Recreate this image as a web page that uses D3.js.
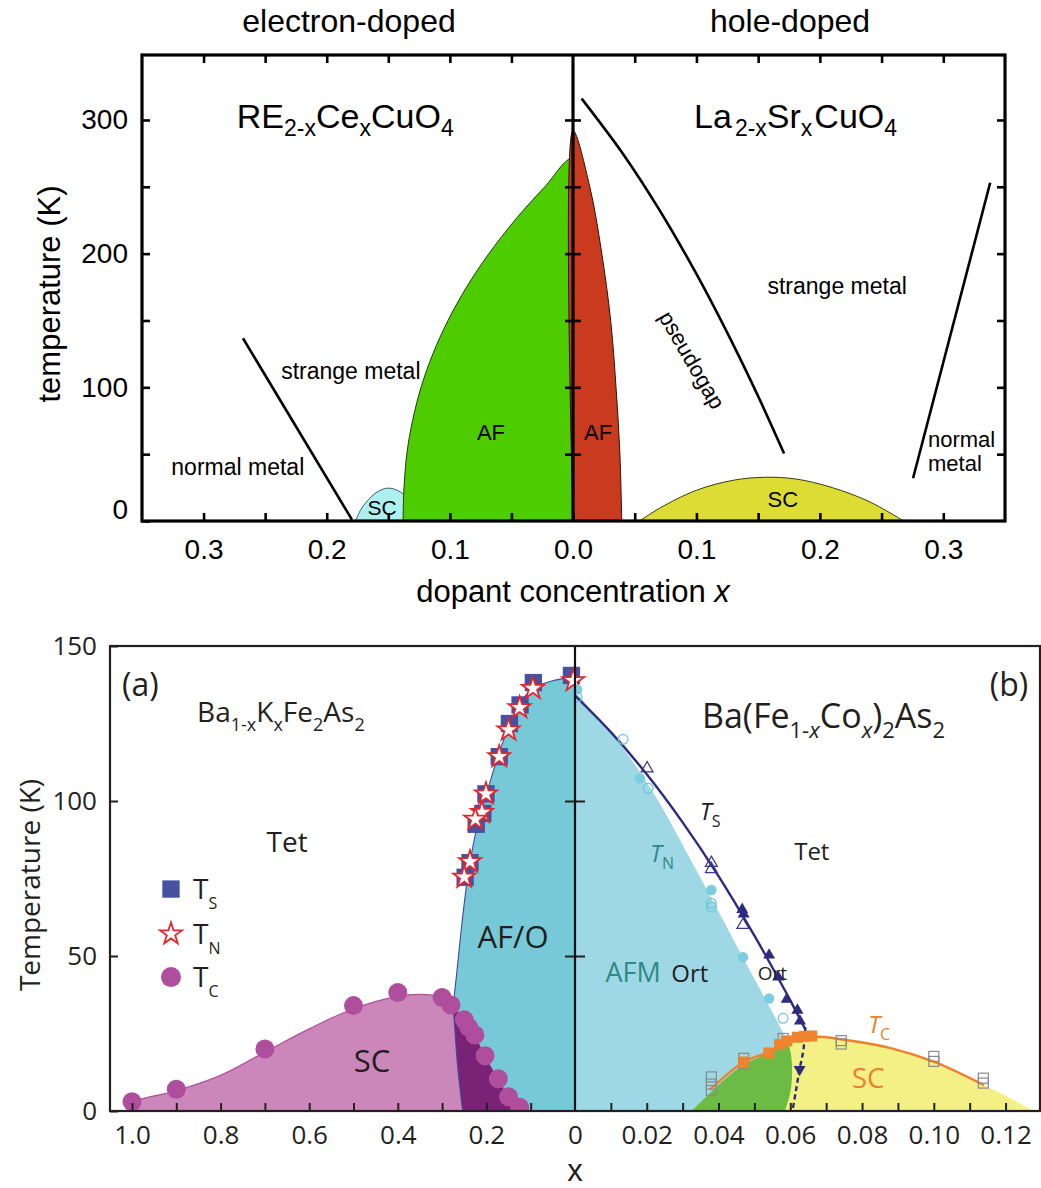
<!DOCTYPE html>
<html><head><meta charset="utf-8">
<script src="https://cdn.jsdelivr.net/npm/d3@7"></script>
<style>body{margin:0;background:#fff}svg{display:block}</style>
</head><body>
<script>
// ===== Cuprate phase diagram (top) =====
const cupTempTicks = [0, 50, 100, 150, 200, 250, 300];
const cupTempLabels = [0, 100, 200, 300];
const cupXTicks = [0, 0.05, 0.1, 0.15, 0.2, 0.25, 0.3];
const cupXLabels = [0, 0.1, 0.2, 0.3];
// electron-doped side, points are [x, T(K)]
const eAF = [[0,271],[0.0229,250],[0.0472,225],[0.0683,200],[0.0864,175],[0.1015,150],[0.1138,125],[0.1234,100],[0.1303,75],[0.135,50],[0.1375,20],[0.138,0]];
const eSC = [[0.1765,0],[0.172,9],[0.164,18],[0.1575,22.5],[0.1513,24.5],[0.144,23.5],[0.136,18],[0.133,0]];
const eCrossover = [[0.268,136.7],[0.1795,1]];
// hole-doped side
const hAF = [[0,292],[0.0136,250],[0.023,202],[0.0305,150],[0.035,98],[0.038,50],[0.0395,0]];
const hPseudogap = [[0.007,316],[0.04,275.3],[0.07,232.7],[0.1,184.8],[0.13,131.6],[0.15,93.3],[0.171,50.5]];
const hSC = [[0.054,0],[0.07,9.5],[0.1,23],[0.13,30.5],[0.155,32.7],[0.18,31.5],[0.21,25],[0.24,14.5],[0.268,0]];
const hCrossover = [[0.2755,32],[0.338,253]];

// ===== Iron pnictide phase diagrams (bottom) =====
const feTempTicks = [0, 50, 100, 150];
const kXTicks = [1.0, 0.9, 0.8, 0.7, 0.6, 0.5, 0.4, 0.3, 0.2, 0.1];
const kXLabels = [1.0, 0.8, 0.6, 0.4, 0.2];
const coXTicks = [0, 0.01, 0.02, 0.03, 0.04, 0.05, 0.06, 0.07, 0.08, 0.09, 0.10, 0.11, 0.12];
const coXLabels = [0, 0.02, 0.04, 0.06, 0.08, 0.10, 0.12];
// (a) Ba1-xKxFe2As2
const kAFO = [[0,140],[0.016,139.7],[0.05,138.8],[0.1,135.8],[0.139,127.2],[0.169,116.5],[0.199,102.6],[0.226,88.5],[0.244,73.5],[0.256,59.5],[0.267,44.4],[0.274,34],[0.271,26],[0.264,13],[0.2535,0]];
const kSCdome = [[1.0,2.5],[0.9,6.5],[0.8,11.5],[0.7,19],[0.6,26.5],[0.5,33],[0.4,37],[0.35,37.6],[0.3,36.8],[0.28,35.5],[0.272,33.5],[0.25,29],[0.226,24],[0.203,17.5],[0.173,10],[0.15,4.5],[0.128,0.8],[0.122,0]];
const kTsX = [0.008, 0.094, 0.124, 0.148, 0.171, 0.201, 0.208, 0.223, 0.237, 0.248];
const kTsT = [140.5, 138.2, 131, 125, 114.3, 102.3, 96, 92.5, 80.1, 75.4];
const kTnX = [0.004, 0.095, 0.125, 0.15, 0.171, 0.201, 0.21, 0.225, 0.237, 0.25];
const kTnT = [138.8, 136.3, 130.1, 122.9, 114.3, 102.3, 96.3, 94.1, 80.4, 75.4];
const kTcX = [1.0, 0.9, 0.7, 0.5, 0.4, 0.3, 0.28, 0.25, 0.24, 0.226, 0.203, 0.173, 0.15, 0.125];
const kTcT = [3.0, 7.0, 20, 34, 38.2, 36.6, 34.2, 29.4, 27, 24.5, 17.8, 10.4, 4.6, 1.2];
// (b) Ba(Fe1-xCox)2As2
const coTsLine = [[0,134],[0.01,122.2],[0.02,108.6],[0.03,93.1],[0.04,75.8],[0.05,56.6],[0.056,44.2],[0.06,35.7],[0.0642,26.3]];
const coTsDrop = [[0.0642,27],[0.0637,20],[0.0626,13.5],[0.0615,6],[0.0606,0]];
const coTnEdge = [[0,134.5],[0.0042,129.5],[0.0134,117],[0.0227,101],[0.0339,77.5],[0.045,53.5],[0.0524,37.5],[0.057,27.5],[0.0598,20.5],[0.0605,13],[0.06,6],[0.0585,0]];
const coSCdome = [[0.0325,0],[0.0376,5.8],[0.042,10.5],[0.047,15],[0.054,18.8],[0.06,22.6],[0.066,24],[0.075,23],[0.088,20.3],[0.1,15.9],[0.114,8.3],[0.1215,4],[0.1278,0]];
const coTcLine = [[0.0376,6.8],[0.047,15.8],[0.054,19],[0.06,22.8],[0.066,24],[0.075,23],[0.088,20.3],[0.1,15.9],[0.114,8.3]];
const coTsFilledX = [0.0466, 0.047, 0.0541, 0.0566, 0.059, 0.062, 0.0627];
const coTsFilledT = [65, 63.5, 50.3, 43.2, 36, 32.5, 29];
const coTsOpenX = [0.0201, 0.038, 0.038, 0.0468];
const coTsOpenT = [110.5, 80, 78, 60];
const coTsDownX = [0.0626];
const coTsDownT = [13.4];
const coTnOpenX = [0.0006, 0.0134, 0.0204, 0.038, 0.038, 0.058];
const coTnOpenT = [133.5, 119.9, 104.1, 67, 65.8, 29.9];
const coTnFilledX = [0.0006, 0.0181, 0.038, 0.0468, 0.0541];
const coTnFilledT = [136, 107.3, 71.3, 49.6, 36.3];
const coTcX = [0.047, 0.054, 0.057, 0.059, 0.062, 0.064, 0.066];
const coTcT = [15.8, 18.7, 21.4, 22.6, 23.8, 24.1, 24.2];
const coTcOpenX = [0.038, 0.038, 0.038, 0.047, 0.047, 0.058, 0.0742, 0.0742, 0.1, 0.1, 0.1138, 0.1138];
const coTcOpenT = [11, 8.7, 6.6, 17, 15.2, 23.4, 22.7, 21.6, 17.6, 16, 10.6, 9];

const W = 1041, H = 1188;
const svg = d3.select("body").append("svg").attr("width", W).attr("height", H);
const defs = svg.append("defs");
const zip = (xs, ts) => xs.map((x, i) => [x, ts[i]]);

// draw text made of normal / subscript / italic pieces
function rich(sel, parts, subSize, shift) {
  let cur = 0;
  parts.forEach(p => {
    const ts = sel.append("tspan").text(p.t);
    const target = p.sub ? shift : 0;
    if (target !== cur) ts.attr("dy", target - cur);
    cur = target;
    if (p.dx) ts.attr("dx", p.dx);
    if (p.sub) ts.attr("font-size", subSize);
    if (p.it) ts.attr("font-style", "italic");
  });
  return sel;
}

// ---------------- TOP PANEL ----------------
const fontT = "'Liberation Sans', Arial, sans-serif";
const topG = svg.append("g").attr("font-family", fontT);
const tL = 142, tR = 1005, tMid = 573, tTop = 55, tBot = 521;
const xL = d3.scaleLinear().domain([0.35, 0]).range([tL, tMid]);
const xR = d3.scaleLinear().domain([0, 0.35]).range([tMid, tR]);
const yC = d3.scaleLinear().domain([0, 348.6]).range([tBot, tTop]);

defs.append("clipPath").attr("id", "clipTop")
  .append("rect").attr("x", tL).attr("y", tTop).attr("width", tR - tL).attr("height", tBot - tTop);

const lineL = d3.line().x(d => xL(d[0])).y(d => yC(d[1])).curve(d3.curveCatmullRom.alpha(0.5));
const lineR = d3.line().x(d => xR(d[0])).y(d => yC(d[1])).curve(d3.curveCatmullRom.alpha(0.5));
const gTop = topG.append("g").attr("clip-path", "url(#clipTop)");

gTop.append("path").attr("d", lineL(eSC) + "Z").attr("fill", "#aef0f0").attr("stroke", "#3b5f6e").attr("stroke-width", 1);
gTop.append("path").attr("d", lineL([[0,0], ...eAF]) + "Z").attr("fill", "#4dcc00").attr("stroke", "#1f3d10").attr("stroke-width", 1);
gTop.append("path").attr("d", lineR([[0,0], ...hAF]) + "Z").attr("fill", "#c93a1e").attr("stroke", "#2a1208").attr("stroke-width", 1);
gTop.append("path").attr("d", lineR(hSC) + "Z").attr("fill", "#dcdc34").attr("stroke", "#3a3a10").attr("stroke-width", 1);
gTop.append("path").attr("d", d3.line().x(d => xL(d[0])).y(d => yC(d[1]))(eCrossover)).attr("fill", "none").attr("stroke", "#000").attr("stroke-width", 2.6);
gTop.append("path").attr("d", lineR(hPseudogap)).attr("fill", "none").attr("stroke", "#000").attr("stroke-width", 2.6);
gTop.append("path").attr("d", d3.line().x(d => xR(d[0])).y(d => yC(d[1]))(hCrossover)).attr("fill", "none").attr("stroke", "#000").attr("stroke-width", 2.6);

// axes (inward ticks)
const fmt1 = d3.format(".1f");
const isIn = (arr, d) => arr.some(v => Math.abs(v - d) < 1e-9);
const axB_L = topG.append("g").attr("transform", `translate(0,${tBot})`)
  .call(d3.axisBottom(xL).tickValues(cupXTicks).tickSize(-8).tickPadding(18)
    .tickFormat(d => isIn(cupXLabels, d) ? fmt1(d) : ""));
const axB_R = topG.append("g").attr("transform", `translate(0,${tBot})`)
  .call(d3.axisBottom(xR).tickValues(cupXTicks.filter(d => d > 0)).tickSize(-8).tickPadding(18)
    .tickFormat(d => isIn(cupXLabels, d) ? fmt1(d) : ""));
const axT_L = topG.append("g").attr("transform", `translate(0,${tTop})`)
  .call(d3.axisTop(xL).tickValues(cupXTicks.filter(d => d > 0)).tickSize(-8).tickFormat(""));
const axT_R = topG.append("g").attr("transform", `translate(0,${tTop})`)
  .call(d3.axisTop(xR).tickValues(cupXTicks.filter(d => d > 0)).tickSize(-8).tickFormat(""));
const axY_L = topG.append("g").attr("transform", `translate(${tL},0)`)
  .call(d3.axisLeft(yC).tickValues(cupTempTicks).tickSize(-8).tickPadding(14)
    .tickFormat(d => cupTempLabels.includes(d) ? d : ""));
const axY_R = topG.append("g").attr("transform", `translate(${tR},0)`)
  .call(d3.axisRight(yC).tickValues(cupTempTicks.filter(d => d > 0)).tickSize(-8).tickFormat(""));
const axY_M1 = topG.append("g").attr("transform", `translate(${tMid},0)`)
  .call(d3.axisLeft(yC).tickValues(cupTempTicks.filter(d => d > 0)).tickSize(8).tickFormat(""));
const axY_M2 = topG.append("g").attr("transform", `translate(${tMid},0)`)
  .call(d3.axisRight(yC).tickValues(cupTempTicks.filter(d => d > 0)).tickSize(8).tickFormat(""));
[axB_L, axB_R, axT_L, axT_R, axY_L, axY_R, axY_M1, axY_M2].forEach(a => {
  a.select(".domain").remove();
  a.selectAll("line").attr("stroke", "#000").attr("stroke-width", 2.6);
  a.selectAll("text").attr("font-size", 28).attr("fill", "#000").attr("font-family", fontT);
});
axY_L.selectAll(".tick").filter(d => d === 0).select("text").attr("dy", "-0.08em");

topG.append("rect").attr("x", tL).attr("y", tTop).attr("width", tR - tL).attr("height", tBot - tTop)
  .attr("fill", "none").attr("stroke", "#000").attr("stroke-width", 3.2);
topG.append("line").attr("x1", tMid).attr("x2", tMid).attr("y1", tTop).attr("y2", tBot)
  .attr("stroke", "#000").attr("stroke-width", 3.2);

// titles and labels
topG.append("text").attr("x", 349).attr("y", 32).attr("text-anchor", "middle").attr("font-size", 32).text("electron-doped");
topG.append("text").attr("x", 790).attr("y", 32).attr("text-anchor", "middle").attr("font-size", 32).text("hole-doped");
topG.append("text").attr("transform", `translate(60,294) rotate(-90)`).attr("text-anchor", "middle")
  .attr("font-size", 31).text("temperature (K)");
rich(topG.append("text").attr("x", tMid).attr("y", 602).attr("text-anchor", "middle").attr("font-size", 31),
  [{t: "dopant concentration "}, {t: "x", it: true}], 31, 0);

rich(topG.append("text").attr("x", xL(0.273)).attr("y", yC(294)).attr("font-size", 34),
  [{t: "RE"}, {t: "2-x", sub: true}, {t: "Ce"}, {t: "x", sub: true}, {t: "CuO"}, {t: "4", sub: true}], 23, 8);
rich(topG.append("text").attr("x", xR(0.0981)).attr("y", yC(294)).attr("font-size", 34),
  [{t: "La"}, {t: "2-x", sub: true, dx: 3}, {t: "Sr"}, {t: "x", sub: true}, {t: "CuO", dx: 2}, {t: "4", sub: true}], 23, 8);

const smallLbl = (x, y, s, anchor = "middle", size = 23) =>
  topG.append("text").attr("x", x).attr("y", y).attr("text-anchor", anchor).attr("font-size", size).text(s);
smallLbl(xL(0.1804), yC(106), "strange metal");
smallLbl(xL(0.2722), yC(34.5), "normal metal");
smallLbl(xL(0.0666), yC(60.5), "AF", "middle", 22);
smallLbl(xL(0.155), yC(4.5), "SC", "middle", 21);
smallLbl(xR(0.0203), yC(60.5), "AF", "middle", 22);
smallLbl(xR(0.214), yC(170), "strange metal");
smallLbl(xR(0.170), yC(10.5), "SC", "middle", 22);
smallLbl(xR(0.2876), yC(55.4), "normal", "start", 22);
smallLbl(xR(0.2876), yC(37.4), "metal", "start", 22);
topG.append("text").attr("transform", `translate(${xR(0.0964)},${yC(120.5)}) rotate(60)`)
  .attr("text-anchor", "middle").attr("dy", "0.35em").attr("font-size", 22).text("pseudogap");

// ---------------- BOTTOM PANEL ----------------
const fontB = "'Open Sans', 'Noto Sans', sans-serif";
const botG = svg.append("g").attr("font-family", fontB).attr("fill", "#231f20");
const bL = 110, bR = 1040, bMid = 575, bTop = 646, bBot = 1111;
const xa = d3.scaleLinear().domain([(bMid - bL) / 443, 0]).range([bL, bMid]);
const xb = d3.scaleLinear().domain([0, (bR - bMid) / 3588]).range([bMid, bR]);
const yF = d3.scaleLinear().domain([0, 150]).range([bBot, bTop]);

defs.append("clipPath").attr("id", "clipA").append("rect").attr("x", bL).attr("y", bTop).attr("width", bMid - bL).attr("height", bBot - bTop);
defs.append("clipPath").attr("id", "clipB").append("rect").attr("x", bMid).attr("y", bTop).attr("width", bR - bMid).attr("height", bBot - bTop);

const lineA = d3.line().x(d => xa(d[0])).y(d => yF(d[1])).curve(d3.curveCatmullRom.alpha(0.5));
const lineB = d3.line().x(d => xb(d[0])).y(d => yF(d[1])).curve(d3.curveCatmullRom.alpha(0.5));

// --- panel (a)
const gA = botG.append("g").attr("clip-path", "url(#clipA)");
const afoPath = lineA([[0,0], ...kAFO]) + "Z";
const scPathA = lineA([[1.0,0], ...kSCdome]) + "Z";
defs.append("clipPath").attr("id", "clipAFO").append("path").attr("d", afoPath);
gA.append("path").attr("d", afoPath).attr("fill", "#78c9d8");
gA.append("path").attr("d", scPathA).attr("fill", "#cb86ba").attr("stroke", "#b0509e").attr("stroke-width", 1.2);
gA.append("path").attr("d", scPathA).attr("fill", "#7a2276").attr("clip-path", "url(#clipAFO)");
gA.append("path").attr("d", lineA(kAFO)).attr("fill", "none").attr("stroke", "#3c4b9e").attr("stroke-width", 1.1);

gA.selectAll("circle.tc").data(zip(kTcX, kTcT)).join("circle").attr("class", "tc")
  .attr("cx", d => xa(d[0])).attr("cy", d => yF(d[1])).attr("r", 9.5).attr("fill", "#b04e9e");
const sqSym = d3.symbol(d3.symbolSquare, 300);
const starSym = d3.symbol(d3.symbolStar, 150);
botG.append("g").selectAll("path").data(zip(kTsX, kTsT)).join("path")
  .attr("transform", d => `translate(${xa(d[0])},${yF(d[1])})`).attr("d", sqSym).attr("fill", "#4651a2");
botG.append("g").selectAll("path").data(zip(kTnX, kTnT)).join("path")
  .attr("transform", d => `translate(${xa(d[0])},${yF(d[1])})`).attr("d", starSym)
  .attr("fill", "#fff").attr("stroke", "#e5262e").attr("stroke-width", 1.8);

// --- panel (b)
const gB = botG.append("g").attr("clip-path", "url(#clipB)");
const afmPath = lineB([[0,0], ...coTnEdge]) + "Z";
const scPathB = lineB(coSCdome) + "Z";
defs.append("clipPath").attr("id", "clipAFM").append("path").attr("d", afmPath);
gB.append("path").attr("d", afmPath).attr("fill", "#9fd8e5");
gB.append("path").attr("d", scPathB).attr("fill", "#f3f186");
gB.append("path").attr("d", scPathB).attr("fill", "#6cbb45").attr("clip-path", "url(#clipAFM)");
gB.append("path").attr("d", lineB(coTsLine)).attr("fill", "none").attr("stroke", "#2d2a80").attr("stroke-width", 2.4);
gB.append("path").attr("d", lineB(coTsDrop)).attr("fill", "none").attr("stroke", "#2d2a80").attr("stroke-width", 2.4).attr("stroke-dasharray", "5,3.5");
gB.append("path").attr("d", lineB(coTcLine)).attr("fill", "none").attr("stroke", "#f07f2e").attr("stroke-width", 2.4);

const triSym = d3.symbol(d3.symbolTriangle, 62);
gB.append("g").selectAll("path").data(zip(coTnFilledX, coTnFilledT)).join("path")
  .attr("transform", d => `translate(${xb(d[0])},${yF(d[1])})`).attr("d", d3.symbol(d3.symbolCircle, 85))
  .attr("fill", "#7dcde0");
gB.append("g").selectAll("path").data(zip(coTnOpenX, coTnOpenT)).join("path")
  .attr("transform", d => `translate(${xb(d[0])},${yF(d[1])})`).attr("d", d3.symbol(d3.symbolCircle, 75))
  .attr("fill", "none").attr("stroke", "#6cc7df").attr("stroke-width", 1.3);
gB.append("g").selectAll("path").data(zip(coTsFilledX, coTsFilledT)).join("path")
  .attr("transform", d => `translate(${xb(d[0])},${yF(d[1])})`).attr("d", triSym).attr("fill", "#2d2a80");
gB.append("g").selectAll("path").data(zip(coTsOpenX, coTsOpenT)).join("path")
  .attr("transform", d => `translate(${xb(d[0])},${yF(d[1])})`).attr("d", triSym)
  .attr("fill", "none").attr("stroke", "#3a3790").attr("stroke-width", 1.2);
gB.append("g").selectAll("path").data(zip(coTsDownX, coTsDownT)).join("path")
  .attr("transform", d => `translate(${xb(d[0])},${yF(d[1])}) rotate(180)`).attr("d", triSym).attr("fill", "#2d2a80");
gB.append("g").selectAll("rect").data(zip(coTcOpenX, coTcOpenT)).join("rect")
  .attr("x", d => xb(d[0]) - 5).attr("y", d => yF(d[1]) - 5).attr("width", 10).attr("height", 10)
  .attr("fill", "none").attr("stroke", "#8a8a8a").attr("stroke-width", 1.2);
gB.append("g").selectAll("rect").data(zip(coTcX, coTcT)).join("rect")
  .attr("x", d => xb(d[0]) - 5.5).attr("y", d => yF(d[1]) - 5.5).attr("width", 11).attr("height", 11)
  .attr("fill", "#f0832f");

// axes
const axA = botG.append("g").attr("transform", `translate(0,${bBot})`)
  .call(d3.axisBottom(xa).tickValues(kXTicks).tickSize(-8).tickPadding(15)
    .tickFormat(d => isIn(kXLabels, d) ? fmt1(d) : ""));
const axBb = botG.append("g").attr("transform", `translate(0,${bBot})`)
  .call(d3.axisBottom(xb).tickValues(coXTicks).tickSize(-8).tickPadding(15)
    .tickFormat(d => isIn(coXLabels, d) ? (d === 0 ? "0" : d3.format(".2f")(d)) : ""));
const axYa = botG.append("g").attr("transform", `translate(${bL},0)`)
  .call(d3.axisLeft(yF).tickValues(feTempTicks).tickSize(-8).tickPadding(13));
const axYm1 = botG.append("g").attr("transform", `translate(${bMid},0)`)
  .call(d3.axisLeft(yF).tickValues([50, 100]).tickSize(10).tickFormat(""));
const axYm2 = botG.append("g").attr("transform", `translate(${bMid},0)`)
  .call(d3.axisRight(yF).tickValues([50, 100]).tickSize(10).tickFormat(""));
[axA, axBb, axYa, axYm1, axYm2].forEach(a => {
  a.select(".domain").remove();
  a.selectAll("line").attr("stroke", "#231f20").attr("stroke-width", 2);
  a.selectAll("text").attr("font-size", 26).attr("fill", "#231f20").attr("font-family", fontB);
});
axBb.selectAll(".tick").filter(d => d === 0).select("line").remove();

botG.append("rect").attr("x", bL).attr("y", bTop).attr("width", bR - bL).attr("height", bBot - bTop)
  .attr("fill", "none").attr("stroke", "#231f20").attr("stroke-width", 2.2);
botG.append("line").attr("x1", bMid).attr("x2", bMid).attr("y1", bTop).attr("y2", bBot)
  .attr("stroke", "#111").attr("stroke-width", 2.2);

botG.append("text").attr("transform", `translate(40,885) rotate(-90)`).attr("text-anchor", "middle")
  .attr("font-size", 28).text("Temperature (K)");
botG.append("text").attr("x", bMid).attr("y", 1181).attr("text-anchor", "middle")
  .attr("font-family", fontT).attr("font-size", 31).text("x");

// panel (a) labels
botG.append("text").attr("x", xa(1.0226)).attr("y", yF(134)).attr("font-size", 32).text("(a)");
rich(botG.append("text").attr("x", xa(0.853)).attr("y", yF(125.5)).attr("font-size", 28),
  [{t: "Ba"}, {t: "1-x", sub: true}, {t: "K"}, {t: "x", sub: true}, {t: "Fe"}, {t: "2", sub: true}, {t: "As"}, {t: "2", sub: true}], 18, 9);
botG.append("text").attr("x", xa(0.65)).attr("y", yF(83.5)).attr("text-anchor", "middle").attr("font-size", 28).text("Tet");
botG.append("text").attr("x", xa(0.14)).attr("y", yF(52.6)).attr("text-anchor", "middle").attr("font-size", 31).text("AF/O");
botG.append("text").attr("x", xa(0.458)).attr("y", yF(12.6)).attr("text-anchor", "middle").attr("font-size", 31).text("SC");

// legend
const legX = xa(0.912);
const legT = [71.6, 57.1, 43.2];
botG.append("path").attr("transform", `translate(${legX},${yF(legT[0])})`).attr("d", sqSym).attr("fill", "#4651a2");
botG.append("path").attr("transform", `translate(${legX},${yF(legT[1])})`).attr("d", starSym)
  .attr("fill", "#fff").attr("stroke", "#e5262e").attr("stroke-width", 1.8);
botG.append("circle").attr("cx", legX).attr("cy", yF(legT[2])).attr("r", 10).attr("fill", "#b04e9e");
[["S", 0], ["N", 1], ["C", 2]].forEach(([s, i]) => {
  rich(botG.append("text").attr("x", legX + 22).attr("y", yF(legT[i]) + 10).attr("font-size", 28),
    [{t: "T"}, {t: s, sub: true}], 16, 10);
});

// panel (b) labels
botG.append("text").attr("x", xb(0.1263)).attr("y", yF(134)).attr("text-anchor", "end").attr("font-size", 32).text("(b)");
rich(botG.append("text").attr("x", xb(0.0354)).attr("y", yF(123.5)).attr("font-size", 34),
  [{t: "Ba(Fe"}, {t: "1-", sub: true}, {t: "x", sub: true, it: true}, {t: "Co"}, {t: "x", sub: true, it: true}, {t: ")"}, {t: "2", sub: true}, {t: "As"}, {t: "2", sub: true}], 22, 10);
rich(botG.append("text").attr("x", xb(0.0348)).attr("y", yF(93.9)).attr("font-size", 24),
  [{t: "T", it: true}, {t: "S", sub: true}], 16, 7);
rich(botG.append("text").attr("x", xb(0.0209)).attr("y", yF(80.3)).attr("font-size", 24).attr("fill", "#2e8a86"),
  [{t: "T", it: true}, {t: "N", sub: true}], 16, 7);
botG.append("text").attr("x", xb(0.066)).attr("y", yF(81)).attr("text-anchor", "middle").attr("font-size", 24).text("Tet");
botG.append("text").attr("x", xb(0.0162)).attr("y", yF(41.6)).attr("text-anchor", "middle").attr("font-size", 27).attr("fill", "#2e8a86").text("AFM");
botG.append("text").attr("x", xb(0.032)).attr("y", yF(41.6)).attr("text-anchor", "middle").attr("font-size", 24).text("Ort");
botG.append("text").attr("x", xb(0.055)).attr("y", yF(42.3)).attr("text-anchor", "middle").attr("font-size", 19).text("Ort");
rich(botG.append("text").attr("x", xb(0.0817)).attr("y", yF(25.2)).attr("font-size", 24).attr("fill", "#f07f2e"),
  [{t: "T", it: true}, {t: "C", sub: true}], 16, 7);
botG.append("text").attr("x", xb(0.0817)).attr("y", yF(7.4)).attr("text-anchor", "middle").attr("font-size", 28).attr("fill", "#f07f2e").text("SC");
</script>
</body></html>
